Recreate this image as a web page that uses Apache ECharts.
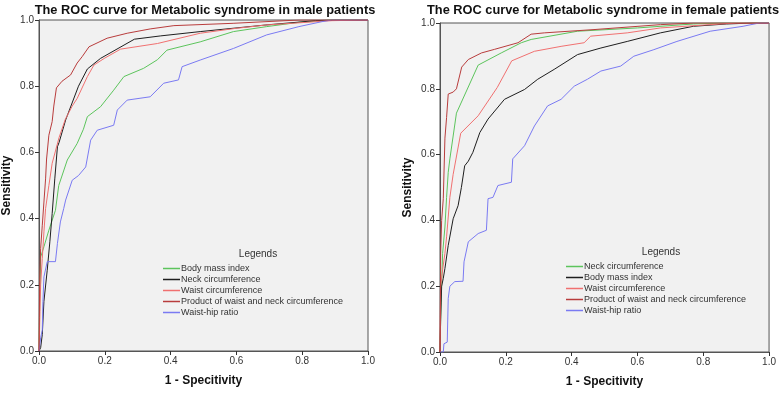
<!DOCTYPE html>
<html>
<head>
<meta charset="utf-8">
<script src="https://cdn.jsdelivr.net/npm/echarts@6/dist/echarts.min.js"></script>
<style>
    html, body { margin: 0; padding: 0; background: #fff; }
    #chart { width: 779px; height: 393px; }
</style>
</head>
<body>
<div id="chart"></div>
<script>
// [1 - specificity, sensitivity]
var maleBmi = [[0, 0], [0.002, 0.15], [0.005, 0.284], [0.015, 0.315], [0.03, 0.365], [0.05, 0.425], [0.06, 0.5], [0.086, 0.577], [0.116, 0.627], [0.135, 0.67], [0.147, 0.708], [0.187, 0.738], [0.227, 0.788], [0.258, 0.829], [0.318, 0.854], [0.36, 0.88], [0.389, 0.909], [0.49, 0.934], [0.591, 0.965], [0.692, 0.98], [0.79, 0.993], [0.89, 1], [1, 1]];
var maleNeck = [[0, 0], [0.005, 0.01], [0.01, 0.05], [0.015, 0.15], [0.025, 0.244], [0.033, 0.33], [0.04, 0.415], [0.048, 0.52], [0.056, 0.617], [0.061, 0.63], [0.081, 0.698], [0.12, 0.8], [0.147, 0.852], [0.187, 0.884], [0.29, 0.942], [0.37, 0.952], [0.49, 0.965], [0.69, 0.985], [0.84, 0.998], [0.9, 1], [1, 1]];
var maleWaist = [[0, 0], [0.003, 0.12], [0.005, 0.2], [0.01, 0.28], [0.015, 0.36], [0.02, 0.43], [0.03, 0.5], [0.04, 0.567], [0.061, 0.645], [0.08, 0.7], [0.101, 0.74], [0.116, 0.763], [0.147, 0.829], [0.167, 0.864], [0.2, 0.885], [0.248, 0.912], [0.36, 0.929], [0.49, 0.96], [0.6, 0.975], [0.692, 0.985], [0.89, 0.998], [1, 1]];
var maleProduct = [[0, 0], [0.001, 0.1], [0.002, 0.21], [0.005, 0.31], [0.01, 0.38], [0.015, 0.45], [0.02, 0.52], [0.023, 0.58], [0.03, 0.652], [0.04, 0.693], [0.045, 0.74], [0.053, 0.795], [0.07, 0.815], [0.096, 0.834], [0.116, 0.87], [0.131, 0.889], [0.152, 0.919], [0.207, 0.945], [0.268, 0.96], [0.338, 0.973], [0.41, 0.983], [0.59, 0.99], [0.79, 1], [1, 1]];
var maleWhr = [[0, 0], [0.005, 0.04], [0.01, 0.063], [0.012, 0.15], [0.015, 0.224], [0.025, 0.27], [0.05, 0.27], [0.056, 0.325], [0.065, 0.39], [0.075, 0.43], [0.081, 0.456], [0.101, 0.516], [0.12, 0.53], [0.142, 0.556], [0.157, 0.637], [0.177, 0.667], [0.227, 0.682], [0.238, 0.728], [0.268, 0.758], [0.338, 0.768], [0.379, 0.809], [0.424, 0.819], [0.435, 0.859], [0.49, 0.879], [0.591, 0.914], [0.692, 0.955], [0.79, 0.98], [0.86, 0.995], [0.89, 1], [1, 1]];

var femaleNeck = [[0, 0], [0.003, 0.15], [0.008, 0.3], [0.015, 0.38], [0.02, 0.47], [0.025, 0.546], [0.03, 0.587], [0.05, 0.726], [0.116, 0.872], [0.186, 0.909], [0.247, 0.94], [0.277, 0.95], [0.418, 0.975], [0.6, 0.985], [0.77, 0.997], [0.85, 1], [1, 1]];
var femaleBmi = [[0, 0], [0.002, 0.1], [0.005, 0.2], [0.01, 0.224], [0.015, 0.254], [0.025, 0.324], [0.04, 0.405], [0.055, 0.445], [0.065, 0.5], [0.075, 0.566], [0.086, 0.58], [0.1, 0.607], [0.121, 0.667], [0.146, 0.708], [0.196, 0.768], [0.257, 0.798], [0.297, 0.829], [0.347, 0.859], [0.418, 0.904], [0.489, 0.924], [0.569, 0.944], [0.67, 0.97], [0.77, 0.99], [0.87, 0.997], [0.95, 1], [1, 1]];
var femaleWaist = [[0, 0], [0.002, 0.2], [0.008, 0.25], [0.015, 0.3], [0.02, 0.35], [0.03, 0.47], [0.04, 0.54], [0.063, 0.665], [0.116, 0.718], [0.174, 0.804], [0.218, 0.885], [0.287, 0.914], [0.368, 0.929], [0.438, 0.94], [0.458, 0.96], [0.569, 0.97], [0.67, 0.985], [0.82, 0.995], [0.9, 1], [1, 1]];
var femaleProduct = [[0, 0], [0.002, 0.3], [0.005, 0.4], [0.01, 0.466], [0.015, 0.65], [0.02, 0.713], [0.025, 0.784], [0.04, 0.79], [0.05, 0.8], [0.066, 0.866], [0.086, 0.889], [0.126, 0.909], [0.166, 0.92], [0.237, 0.94], [0.277, 0.966], [0.317, 0.97], [0.468, 0.98], [0.67, 0.995], [0.77, 1], [1, 1]];
var femaleWhr = [[0, 0], [0.01, 0], [0.012, 0.025], [0.022, 0.03], [0.025, 0.163], [0.03, 0.2], [0.045, 0.214], [0.07, 0.215], [0.073, 0.274], [0.086, 0.335], [0.116, 0.36], [0.141, 0.37], [0.146, 0.466], [0.161, 0.47], [0.176, 0.506], [0.217, 0.516], [0.221, 0.587], [0.257, 0.627], [0.287, 0.687], [0.327, 0.748], [0.368, 0.768], [0.408, 0.808], [0.448, 0.829], [0.489, 0.854], [0.549, 0.869], [0.589, 0.899], [0.65, 0.919], [0.72, 0.944], [0.821, 0.975], [0.921, 0.99], [0.97, 1], [1, 1]];

var maleNames = ['Body mass index', 'Neck circumference', 'Waist circumference', 'Product of waist and neck circumference', 'Waist-hip ratio'];
var femaleNames = ['Neck circumference', 'Body mass index', 'Waist circumference', 'Product of waist and neck circumference', 'Waist-hip ratio'];
var maleData = [maleBmi, maleNeck, maleWaist, maleProduct, maleWhr];
var femaleData = [femaleNeck, femaleBmi, femaleWaist, femaleProduct, femaleWhr];
var lineColors = ['#5cc45c', '#1e1e1e', '#f07070', '#b83c3c', '#7a7af2'];
var tickValues = [0, 0.2, 0.4, 0.6, 0.8, 1.0];

var fontFamily = 'Arial, "Liberation Sans", sans-serif';

function makeAxis(idx, isX) {
    return {
        type: 'value',
        gridIndex: idx,
        min: 0,
        max: 1,
        interval: 0.2,
        name: isX ? '1 - Specitivity' : 'Sensitivity',
        nameLocation: 'middle',
        nameGap: isX ? 24 : 26,
        nameTextStyle: { fontFamily: fontFamily, fontSize: 12, fontWeight: 'bold', color: '#111' },
        axisLine: { show: true, lineStyle: { color: '#555', width: 1 } },
        axisTick: { show: true, length: 4, lineStyle: { color: '#333' } },
        axisLabel: {
            fontFamily: fontFamily,
            fontSize: 10,
            color: '#333',
            margin: 5,
            formatter: function (v) { return v.toFixed(1); },
            customValues: tickValues
        },
        splitLine: { show: false }
    };
}

var series = [];
maleNames.forEach(function (n, i) {
    series.push({
        type: 'line', name: 'M|' + n, xAxisIndex: 0, yAxisIndex: 0,
        data: maleData[i], showSymbol: false, symbol: 'none',
        lineStyle: { width: 1, color: lineColors[i] }, itemStyle: { color: lineColors[i] },
        z: i === 3 ? 3 : 2
    });
});
femaleNames.forEach(function (n, i) {
    series.push({
        type: 'line', name: 'F|' + n, xAxisIndex: 1, yAxisIndex: 1,
        data: femaleData[i], showSymbol: false, symbol: 'none',
        lineStyle: { width: 1, color: lineColors[i] }, itemStyle: { color: lineColors[i] },
        z: i === 3 ? 3 : 2
    });
});

function makeLegend(names, prefix, left, top) {
    return {
        orient: 'vertical',
        left: left,
        top: top,
        icon: 'rect',
        itemWidth: 17,
        itemHeight: 1.5,
        itemGap: 0,
        padding: 0,
        selectedMode: false,
        data: names.map(function (n) { return prefix + n; }),
        formatter: function (name) { return name.split('|')[1]; },
        textStyle: { fontFamily: fontFamily, fontSize: 9, color: '#333', lineHeight: 11, padding: [0, 0, 0, -4] }
    };
}

var option = {
    backgroundColor: '#fff',
    animation: false,
    title: [{
        text: 'The ROC curve for Metabolic syndrome in male patients',
        left: 200, top: -1, textAlign: 'center',
        textStyle: { fontFamily: fontFamily, fontSize: 12.8, fontWeight: 'bold', color: '#111' }
    }, {
        text: 'The ROC curve for Metabolic syndrome in female patients',
        left: 598, top: -1, textAlign: 'center',
        textStyle: { fontFamily: fontFamily, fontSize: 12.8, fontWeight: 'bold', color: '#111' }
    }, {
        text: 'Legends',
        left: 253, top: 244, textAlign: 'center',
        textStyle: { fontFamily: fontFamily, fontSize: 10, fontWeight: 'normal', color: '#333' }
    }, {
        text: 'Legends',
        left: 656, top: 242, textAlign: 'center',
        textStyle: { fontFamily: fontFamily, fontSize: 10, fontWeight: 'normal', color: '#333' }
    }],
    grid: [{
        left: 38, top: 20, width: 330, height: 331,
        show: true, backgroundColor: '#f1f1f1', borderColor: '#555', borderWidth: 1
    }, {
        left: 440, top: 23, width: 331, height: 331,
        show: true, backgroundColor: '#f1f1f1', borderColor: '#555', borderWidth: 1
    }],
    xAxis: [makeAxis(0, true), makeAxis(1, true)],
    yAxis: [makeAxis(0, false), makeAxis(1, false)],
    legend: [makeLegend(maleNames, 'M|', 163, 263), makeLegend(femaleNames, 'F|', 566, 261)],
    series: series
};

var myChart = echarts.init(document.getElementById('chart'));
myChart.setOption(option);
</script>
</body>
</html>
